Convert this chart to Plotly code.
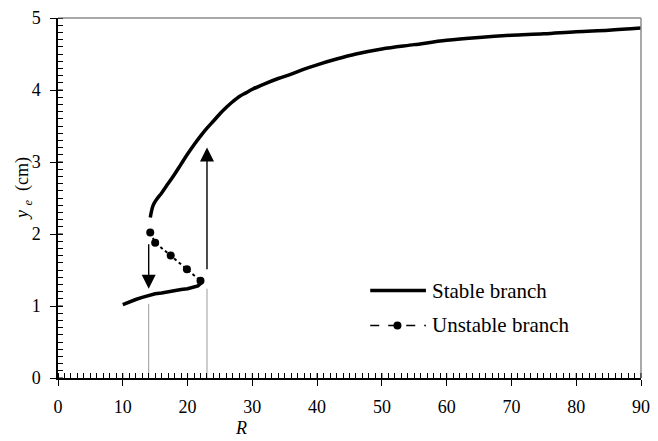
import plotly.graph_objects as go

# Stable branch, lower part (R, y_e in cm)
r_low = [10, 11, 12, 13, 14, 15, 16, 17, 18, 19, 20, 21, 21.6, 22.1]
y_low = [1.02, 1.06, 1.09, 1.12, 1.15, 1.17, 1.18, 1.20, 1.21, 1.23, 1.24, 1.26, 1.28, 1.32]

# Stable branch, upper part
r_up = [14.25, 14.7, 15.3, 16, 17, 18, 19, 20, 21, 22, 23, 24, 25, 26, 27, 28, 29, 30,
        32, 34, 36, 38, 40, 43, 46, 50, 55, 60, 65, 70, 75, 80, 85, 90]
y_up = [2.23, 2.40, 2.49, 2.57, 2.70, 2.83, 2.97, 3.11, 3.24, 3.36, 3.47, 3.57, 3.67, 3.76,
        3.84, 3.91, 3.96, 4.01, 4.09, 4.16, 4.22, 4.29, 4.35, 4.43, 4.50, 4.57, 4.63, 4.69,
        4.73, 4.76, 4.78, 4.81, 4.83, 4.86]

# Unstable branch
r_un = [14.24, 15.0, 17.4, 19.9, 22.0]
y_un = [2.02, 1.88, 1.70, 1.51, 1.35]

# Jump arrows: (R, y_tail, y_tip)
jumps = [(14.0, 1.88, 1.24), (23.0, 1.49, 3.20)]
# Thin guide lines from the axis: (R, y_top)
guides = [(14.0, 1.03), (23.0, 1.24)]

x_ticks = list(range(0, 100, 10))
y_ticks = [0, 1, 2, 3, 4, 5]

FONT = "'Liberation Serif', 'Times New Roman', Times, serif"
BLACK = "#000000"

fig = go.Figure()
fig.add_trace(go.Scatter(x=r_low, y=y_low, mode="lines",
                         line=dict(color=BLACK, width=3.5), showlegend=False))
fig.add_trace(go.Scatter(x=r_up, y=y_up, mode="lines", line_shape="spline",
                         line=dict(color=BLACK, width=3.5), showlegend=False))
fig.add_trace(go.Scatter(x=r_un, y=y_un, mode="lines+markers",
                         line=dict(color=BLACK, width=2, dash="dot"),
                         marker=dict(color=BLACK, size=8), showlegend=False))

shapes = []
for gx, gy in guides:
    shapes.append(dict(type="line", xref="x", yref="y", x0=gx, x1=gx, y0=0, y1=gy,
                       line=dict(color="#9a9a9a", width=1), layer="below"))
# grey frame on top and right
shapes.append(dict(type="line", xref="paper", yref="paper", x0=0, x1=1, y0=1, y1=1,
                   line=dict(color="#8c8c8c", width=1.5)))
shapes.append(dict(type="line", xref="paper", yref="paper", x0=1, x1=1, y0=0, y1=1,
                   line=dict(color="#8c8c8c", width=1.5)))
# inner half of the major ticks
for t in x_ticks:
    shapes.append(dict(type="line", xref="x", yref="y domain", ysizemode="pixel", yanchor=0,
                       x0=t, x1=t, y0=0, y1=5, line=dict(color=BLACK, width=1)))
for t in y_ticks:
    shapes.append(dict(type="line", yref="y", xref="x domain", xsizemode="pixel", xanchor=0,
                       y0=t, y1=t, x0=0, x1=5, line=dict(color=BLACK, width=1)))

# legend drawn in data space
shapes.append(dict(type="line", xref="x", yref="y", x0=48.2, x1=56.8, y0=1.215, y1=1.215,
                   line=dict(color=BLACK, width=3.5)))
shapes.append(dict(type="line", xref="x", yref="y", x0=48.2, x1=56.8, y0=0.73, y1=0.73,
                   line=dict(color=BLACK, width=1.5, dash="dash")))

annotations = []
for ax_r, y0, y1 in jumps:
    annotations.append(dict(x=ax_r, y=y1, ax=ax_r, ay=y0, xref="x", yref="y",
                            axref="x", ayref="y", showarrow=True, arrowhead=2,
                            arrowsize=2.0, arrowwidth=1.4, arrowcolor=BLACK, text=""))
annotations.append(dict(x=57.4, y=1.215, xref="x", yref="y", text="Stable branch",
                        showarrow=False, xanchor="left", yanchor="middle",
                        font=dict(family=FONT, size=21, color=BLACK)))
annotations.append(dict(x=57.4, y=0.73, xref="x", yref="y", text="Unstable branch",
                        showarrow=False, xanchor="left", yanchor="middle",
                        font=dict(family=FONT, size=21, color=BLACK)))
annotations.append(dict(x=28.3, y=-0.14, xref="x", yref="paper", text="<i>R</i>",
                        showarrow=False, xanchor="center", yanchor="middle",
                        font=dict(family=FONT, size=18, color=BLACK)))
annotations.append(dict(x=-0.06, y=0.525, xref="paper", yref="paper",
                        text="<i>y</i> <sub><i>e</i></sub>  (cm)", textangle=-90,
                        showarrow=False, xanchor="center", yanchor="middle",
                        font=dict(family=FONT, size=18, color=BLACK)))

fig.add_trace(go.Scatter(x=[52.4], y=[0.73], mode="markers",
                         marker=dict(color=BLACK, size=8), showlegend=False))

fig.update_layout(
    width=658, height=441,
    margin=dict(l=58, r=8, t=16, b=63),
    paper_bgcolor="white", plot_bgcolor="white",
    shapes=shapes, annotations=annotations,
    font=dict(family=FONT, size=18, color=BLACK),
    showlegend=False,
)
fig.update_xaxes(range=[0, 90], tickvals=x_ticks, showgrid=False, zeroline=False,
                 showline=True, linecolor=BLACK, linewidth=1.5,
                 ticks="outside", ticklen=6, tickwidth=1, tickcolor=BLACK,
                 ticklabelstandoff=6, ticklabeloverflow="allow",
                 tickfont=dict(family=FONT, size=18, color=BLACK),
                 minor=dict(dtick=1, ticks="inside", ticklen=5, tickwidth=1, tickcolor=BLACK))
fig.update_yaxes(range=[0, 5], tickvals=y_ticks, showgrid=False, zeroline=False,
                 showline=True, linecolor=BLACK, linewidth=1.5,
                 ticks="outside", ticklen=6, tickwidth=1, tickcolor=BLACK,
                 ticklabelstandoff=6,
                 tickfont=dict(family=FONT, size=18, color=BLACK),
                 minor=dict(dtick=0.1, ticks="inside", ticklen=5, tickwidth=1, tickcolor=BLACK))

fig.write_html("out.html")
